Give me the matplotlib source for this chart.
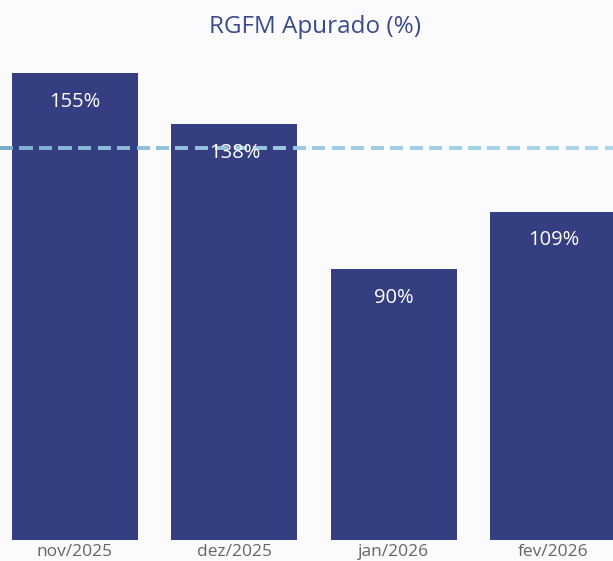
import numpy as np
import matplotlib.pyplot as plt
from matplotlib.collections import LineCollection
from matplotlib.colors import LinearSegmentedColormap

months = ["nov/2025", "dez/2025", "jan/2026", "fev/2026"]
rgfm = [155, 138, 90, 109]
meta = 130

plt.rcParams["font.family"] = ["Open Sans", "DejaVu Sans"]

fig = plt.figure(figsize=(6.13, 5.61), dpi=100)
fig.patch.set_facecolor("#fbfbfe")
ax = fig.add_axes([0, 21 / 561, 1, 490 / 561])
ax.set_facecolor("none")

x = np.arange(len(months))
bars = ax.bar(x, rgfm, width=0.79, color="#353e80", zorder=2)

for b, v in zip(bars, rgfm):
    ax.text(b.get_x() + b.get_width() / 2, v - 9.6, f"{v}%", ha="center",
            va="center", color="white", fontsize=14.5, zorder=4)

ax.set_xlim(-0.47, 3.373)
ax.set_ylim(0, 162.6)

# dashed target line with a blue -> light blue gradient
x0, x1 = ax.get_xlim()
px = (x1 - x0) / 613
starts = np.arange(x0, x1, 19.5 * px)
segs = [[(s, meta), (min(s + 13 * px, x1), meta)] for s in starts]
cmap = LinearSegmentedColormap.from_list("g", ["#78aad0", "#a9d6e8"])
cols = cmap(np.linspace(0, 1, len(segs)) ** 0.5)
ax.add_collection(LineCollection(segs, colors=cols, linewidths=2.8, zorder=3))

ax.set_xticks(x)
ax.set_xticklabels(months, color="#666666", fontsize=12.5)
ax.tick_params(axis="x", length=0, pad=3)
ax.set_yticks([])
for s in ax.spines.values():
    s.set_visible(False)

fig.text(0.514, 1 - 27 / 561, "RGFM Apurado (%)", ha="center", va="center",
         color="#3b4a8c", fontsize=17.5)

fig.savefig("out.png", dpi=100, facecolor=fig.get_facecolor())
